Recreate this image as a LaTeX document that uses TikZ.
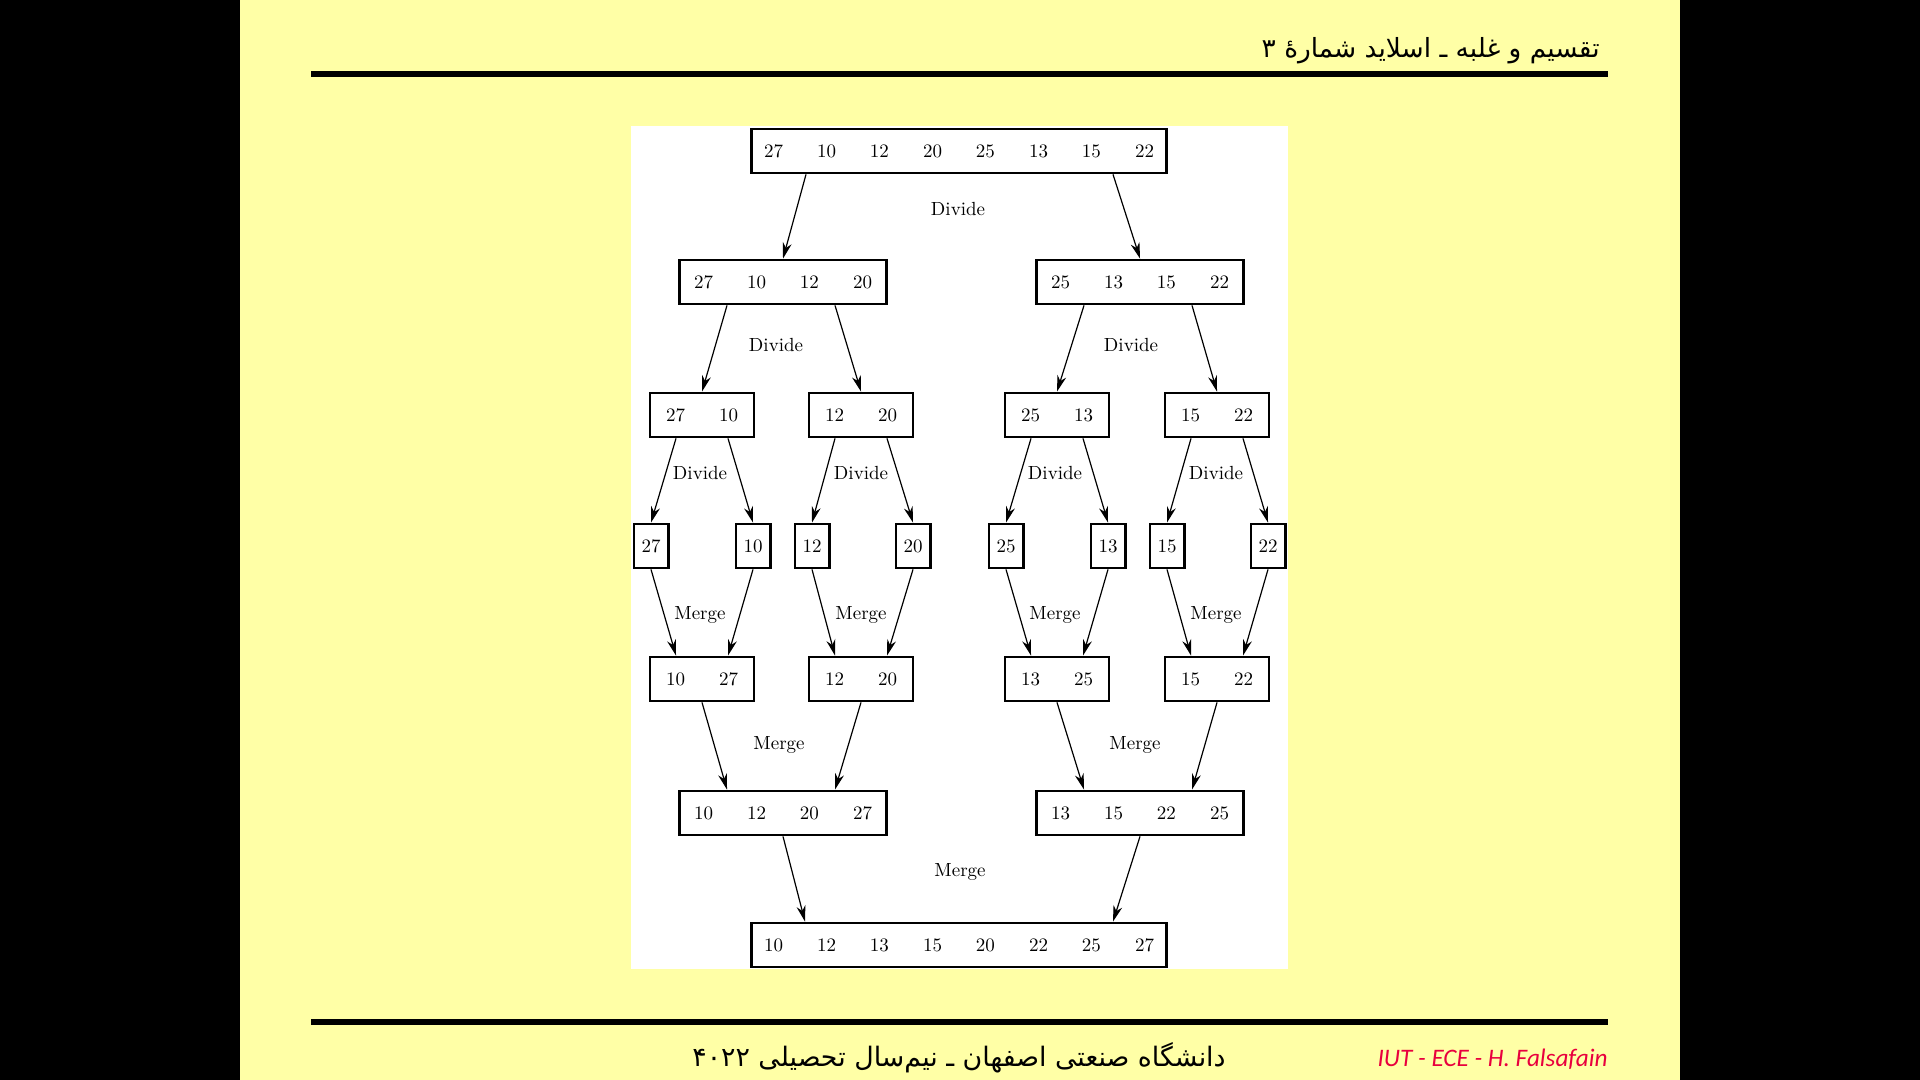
\documentclass[tikz,border=0pt]{standalone}
\usepackage{fontspec}
\usepackage{tikz}
\usetikzlibrary{arrows.meta}
\TeXXeTstate=1
\newfontfamily\farsi[Script=Arabic]{DejaVu Sans}
\newfontfamily\sigfont{Carlito}
\definecolor{slide}{RGB}{255,255,166}
\definecolor{sig}{RGB}{232,0,62}

% numbers of one array, evenly spaced
\newcommand{\nums}[1]{%
  \foreach \n [count=\i] in {#1}{\ifnum\i>1\hspace{17pt}\fi\makebox[9.5pt]{\n}}}

\tikzset{
  box/.style={draw, line width=1.4pt, inner xsep=6.3pt, inner ysep=0pt,
    minimum height=22pt, font=\fontsize{9.5}{11}\selectfont},
  pair/.style={box, minimum width=52pt},
  quad/.style={box, minimum width=103.5pt},
  single/.style={box, inner xsep=3.8pt},
  lbl/.style={font=\fontsize{9.5}{11}\selectfont},
  arr/.style={line width=0.6pt, -{Stealth[length=8pt,width=4.5pt,inset=2.5pt]}}
}

\begin{document}
\begin{tikzpicture}[x=0.5pt, y=-0.5pt]
  \useasboundingbox (0,0) rectangle (1920,1080);
  \fill[black] (0,0) rectangle (1920,1080);
  \fill[slide] (240,0) rectangle (1680,1080);
  \fill[white] (631,126) rectangle (1288,969);

  % header and footer
  \draw[line width=3pt] (311,74) -- (1608,74);
  \draw[line width=3pt] (311,1022) -- (1608,1022);
  \node[anchor=base east, inner sep=0pt, font=\farsi\fontsize{13.2}{16}\selectfont] (title) at (1600,58)
    {\beginR تقسیم و غلبه ـ اسلاید شمارهٔ ۳\endR};
  \node[anchor=base, inner sep=0pt, font=\farsi\fontsize{13.4}{16}\selectfont] (foot) at (959,1066)
    {\beginR دانشگاه صنعتی اصفهان ـ نیم‌سال تحصیلی ۴۰۲۲\endR};
  \node[anchor=base east, inner sep=0pt, text=sig, font=\sigfont\itshape\fontsize{12.6}{15}\selectfont] (sign) at (1608,1066)
    {IUT - ECE - H. Falsafain};

  % divide
  \node[box] (a) at (959,151) {\nums{27,10,12,20,25,13,15,22}};
  \node[quad] (b1) at (783,282) {\nums{27,10,12,20}};
  \node[quad] (b2) at (1140,282) {\nums{25,13,15,22}};
  \node[pair] (c1) at (702,415) {\nums{27,10}};
  \node[pair] (c2) at (861,415) {\nums{12,20}};
  \node[pair] (c3) at (1057,415) {\nums{25,13}};
  \node[pair] (c4) at (1217,415) {\nums{15,22}};

  \node[single] (d1) at (651,546) {27};
  \node[single] (d2) at (753,546) {10};
  \node[single] (d3) at (812,546) {12};
  \node[single] (d4) at (913,546) {20};
  \node[single] (d5) at (1006,546) {25};
  \node[single] (d6) at (1108,546) {13};
  \node[single] (d7) at (1167,546) {15};
  \node[single] (d8) at (1268,546) {22};

  % merge
  \node[pair] (e1) at (702,679) {\nums{10,27}};
  \node[pair] (e2) at (861,679) {\nums{12,20}};
  \node[pair] (e3) at (1057,679) {\nums{13,25}};
  \node[pair] (e4) at (1217,679) {\nums{15,22}};
  \node[quad] (f1) at (783,813) {\nums{10,12,20,27}};
  \node[quad] (f2) at (1140,813) {\nums{13,15,22,25}};
  \node[box] (g) at (959,945) {\nums{10,12,13,15,20,22,25,27}};

  \node[lbl] (dv) at (958,209) {Divide};
  \node[lbl] (dv1) at (776,345) {Divide};
  \node[lbl] (dv2) at (1131,345) {Divide};
  \node[lbl] (dv11) at (700,473) {Divide};
  \node[lbl] (dv12) at (861,473) {Divide};
  \node[lbl] (dv21) at (1055,473) {Divide};
  \node[lbl] (dv22) at (1216,473) {Divide};
  \node[lbl] (mg11) at (700,615) {Merge};
  \node[lbl] (mg12) at (861,615) {Merge};
  \node[lbl] (mg21) at (1055,615) {Merge};
  \node[lbl] (mg22) at (1216,615) {Merge};
  \node[lbl] (mg1) at (779,745) {Merge};
  \node[lbl] (mg2) at (1135,745) {Merge};
  \node[lbl] (mg) at (960,872) {Merge};

  \draw[arr] ([xshift=-76.5pt]a.south) -- (b1.north);
  \draw[arr] ([xshift=77pt]a.south) -- (b2.north);
  \draw[arr] ([xshift=-28pt]b1.south) -- (c1.north);
  \draw[arr] ([xshift=26pt]b1.south) -- (c2.north);
  \draw[arr] ([xshift=-28pt]b2.south) -- (c3.north);
  \draw[arr] ([xshift=26pt]b2.south) -- (c4.north);

  \draw[arr] ([xshift=-13pt]c1.south) -- (d1.north);
  \draw[arr] ([xshift=13pt]c1.south) -- (d2.north);
  \draw[arr] ([xshift=-13pt]c2.south) -- (d3.north);
  \draw[arr] ([xshift=13pt]c2.south) -- (d4.north);
  \draw[arr] ([xshift=-13pt]c3.south) -- (d5.north);
  \draw[arr] ([xshift=13pt]c3.south) -- (d6.north);
  \draw[arr] ([xshift=-13pt]c4.south) -- (d7.north);
  \draw[arr] ([xshift=13pt]c4.south) -- (d8.north);

  \draw[arr] (d1.south) -- ([xshift=-13pt]e1.north);
  \draw[arr] (d2.south) -- ([xshift=13pt]e1.north);
  \draw[arr] (d3.south) -- ([xshift=-13pt]e2.north);
  \draw[arr] (d4.south) -- ([xshift=13pt]e2.north);
  \draw[arr] (d5.south) -- ([xshift=-13pt]e3.north);
  \draw[arr] (d6.south) -- ([xshift=13pt]e3.north);
  \draw[arr] (d7.south) -- ([xshift=-13pt]e4.north);
  \draw[arr] (d8.south) -- ([xshift=13pt]e4.north);

  \draw[arr] (e1.south) -- ([xshift=-28pt]f1.north);
  \draw[arr] (e2.south) -- ([xshift=26pt]f1.north);
  \draw[arr] (e3.south) -- ([xshift=-28pt]f2.north);
  \draw[arr] (e4.south) -- ([xshift=26pt]f2.north);
  \draw[arr] (f1.south) -- ([xshift=-77pt]g.north);
  \draw[arr] (f2.south) -- ([xshift=77pt]g.north);
\end{tikzpicture}
\end{document}
